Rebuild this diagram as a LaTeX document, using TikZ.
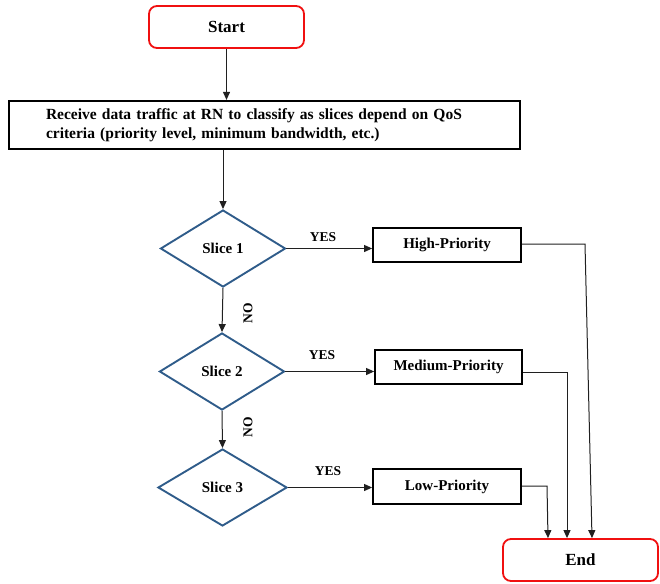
\documentclass[tikz,border=0pt]{standalone}
\usepackage{fontspec}
\setmainfont{Liberation Serif}
\usetikzlibrary{shapes.geometric,arrows.meta}
\definecolor{dblue}{HTML}{2F5C8A}
\definecolor{tred}{HTML}{F01010}
\definecolor{lgray}{HTML}{202020}
\begin{document}
\begin{tikzpicture}[x=1pt,y=-1pt,
  term/.style={draw=tred, line width=1.8pt, rounded corners=8pt, minimum width=155pt, minimum height=42pt, inner sep=0pt, font=\fontsize{17}{20}\selectfont\bfseries},
  procbox/.style={draw=black, line width=2.2pt, minimum width=511pt, minimum height=48pt, inner xsep=37pt, text width=437pt, align=left, font=\fontsize{15.5}{18.5}\selectfont\bfseries},
  dec/.style={draw=dblue, line width=1.9pt, diamond, inner sep=0pt, minimum width=125pt, minimum height=77pt, font=\fontsize{15}{18}\selectfont\bfseries},
  pbox/.style={draw=black, line width=1.8pt, minimum width=148pt, minimum height=34pt, inner sep=0pt, font=\fontsize{15}{18}\selectfont\bfseries},
  lbl/.style={font=\fontsize{13.5}{16}\selectfont\bfseries, inner sep=0pt},
  arr/.style={draw=lgray, line width=1pt, -{Triangle[length=8pt,width=7pt]}},
  ln/.style={draw=lgray, line width=1pt}]
\useasboundingbox (0,0) rectangle (660,583);
\node[term] (start) at (226.5,27) {Start};
\node[procbox] (proc) at (264.5,125) {Receive data traffic at RN to classify as slices depend on QoS\\criteria (priority level, minimum bandwidth, etc.)};
\node[dec] (s1) at (223,248.5) {Slice 1};
\node[dec] (s2) at (222,371.5) {Slice 2};
\node[dec, minimum width=129pt] (s3) at (222.5,487.5) {Slice 3};
\node[pbox] (hp) at (447,245) {High-Priority};
\node[pbox, minimum width=147pt] (mp) at (448.5,367) {Medium-Priority};
\node[pbox, minimum height=35pt] (lp) at (447,486.5) {Low-Priority};
\node[term] (en) at (580.5,560) {End};
\coordinate (h1) at (585,244);
\coordinate (h2) at (592,0);
\coordinate (m1) at (567,372);
\coordinate (l1) at (547,486);
\coordinate (l2) at (548,0);
\draw[arr] (start) -- (start |- proc.north);
\draw[arr] (s1.north |- proc.south) -- (s1.north);
\draw[arr] (s1.south) -- (s2.north);
\draw[arr] (s2.south) -- (s3.north);
\draw[arr] (s1.east) -- (s1.east -| hp.west);
\draw[arr] (s2.east) -- (s2.east -| mp.west);
\draw[arr] (s3.east) -- (s3.east -| lp.west);
\draw[arr] (hp.east |- h1) -- (h1) -- (h2 |- en.north);
\draw[arr] (mp.east |- m1) -- (m1) -- (m1 |- en.north);
\draw[arr] (lp.east |- l1) -- (l1) -- (l2 |- en.north);
\node[lbl] (y1) at (323,237) {YES};
\node[lbl] (y2) at (322,355) {YES};
\node[lbl] (y3) at (328,471) {YES};
\node[lbl, rotate=90] (n1) at (248,313) {NO};
\node[lbl, rotate=90] (n2) at (248,427) {NO};
\end{tikzpicture}
\end{document}
